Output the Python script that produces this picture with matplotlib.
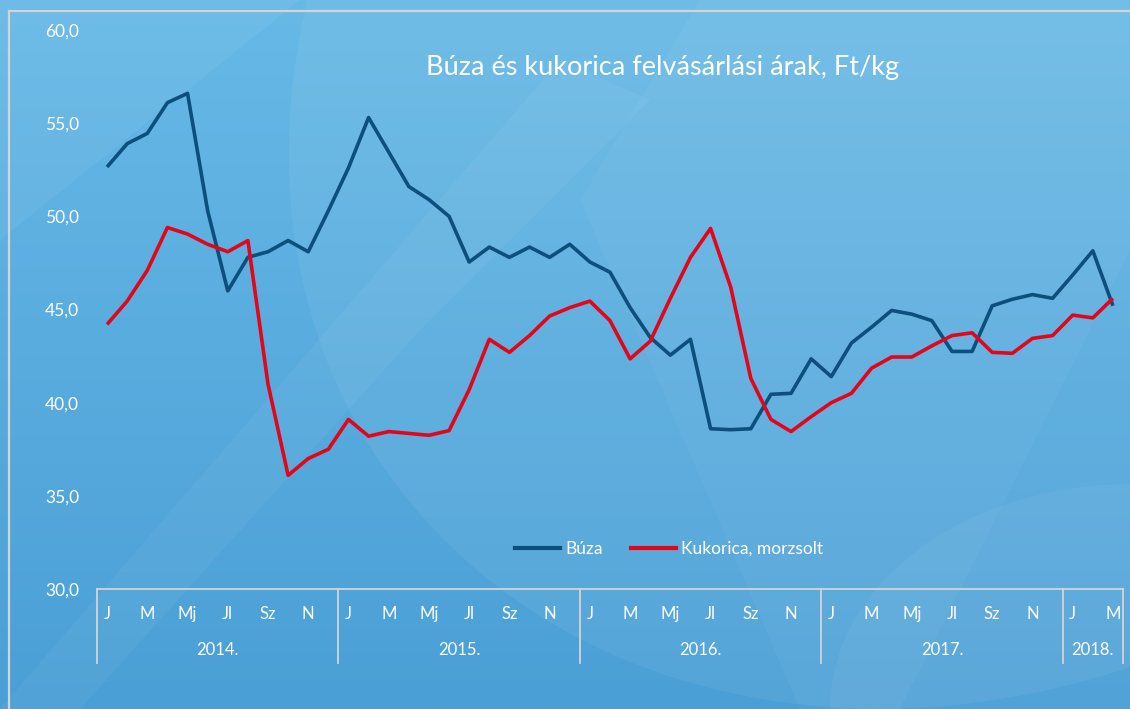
import matplotlib.pyplot as plt
import numpy as np
from matplotlib.colors import LinearSegmentedColormap
from matplotlib.lines import Line2D
from matplotlib.patches import Polygon, Ellipse

plt.rcParams["font.family"] = ["Lato", "DejaVu Sans"]

MONTH_LABELS = ["J", "M", "Mj", "Jl", "Sz", "N"]
YEARS = ["2014.", "2015.", "2016.", "2017.", "2018."]
YEAR_MONTHS = [12, 12, 12, 12, 3]

buza = [
    52.65, 53.9, 54.45, 56.1, 56.6, 50.3, 46.0, 47.8, 48.1, 48.7, 48.1, 50.3,
    52.6, 55.3, 53.45, 51.6, 50.9, 50.0, 47.55, 48.35, 47.8, 48.35, 47.8, 48.5,
    47.55, 47.0, 45.1, 43.5, 42.55, 43.4, 38.6, 38.55, 38.6, 40.45, 40.5, 42.35,
    41.4, 43.2, 44.05, 44.95, 44.75, 44.4, 42.75, 42.75, 45.2, 45.55, 45.8, 45.6,
    46.85, 48.15, 45.2,
]
kukorica = [
    44.2, 45.45, 47.1, 49.4, 49.05, 48.5, 48.1, 48.7, 41.0, 36.1, 37.0, 37.5,
    39.1, 38.2, 38.45, 38.35, 38.25, 38.5, 40.7, 43.4, 42.7, 43.6, 44.65, 45.1,
    45.45, 44.4, 42.35, 43.3, 45.6, 47.8, 49.35, 46.2, 41.3, 39.1, 38.45, 39.25,
    40.0, 40.5, 41.85, 42.45, 42.45, 43.05, 43.6, 43.75, 42.7, 42.65, 43.45, 43.6,
    44.7, 44.55, 45.6,
]

BLUE = "#0d4f7c"
RED = "#e3061a"
GRID = "#d4d4d4"
W, H = 1130, 709

fig = plt.figure(figsize=(W / 100, H / 100), dpi=100)

# background: vertical gradient plus a few soft decorative shapes
bg = fig.add_axes([0, 0, 1, 1], zorder=0)
bg.set_xlim(0, W)
bg.set_ylim(H, 0)
bg.axis("off")
grad = np.linspace(0, 1, 256).reshape(-1, 1)
cmap = LinearSegmentedColormap.from_list("bg", ["#67b9e6", "#4a9fd6"])
bg.imshow(grad, cmap=cmap, extent=[0, W, H, 0], aspect="auto")
bg.add_patch(Ellipse((1000, 40), 1500, 1250, angle=-35, facecolor="white",
                     alpha=0.06, edgecolor="none"))
bg.add_patch(Polygon([[0, 709], [80, 709], [420, 330], [650, 100], [560, 60]],
                     facecolor="white", alpha=0.045, edgecolor="none"))
bg.add_patch(Polygon([[580, 200], [700, 0], [1130, 0], [1130, 250], [900, 709], [800, 709]],
                     facecolor="white", alpha=0.035, edgecolor="none"))
bg.add_patch(Polygon([[0, 0], [0, 240], [300, 0]],
                     facecolor="white", alpha=0.05, edgecolor="none"))
bg.add_patch(Ellipse((1130, 709), 600, 450, facecolor="white",
                     alpha=0.045, edgecolor="none"))
# frame lines
bg.plot([9, W], [11, 11], color=GRID, lw=1.6)
bg.plot([9, 9], [11, H], color=GRID, lw=1.6)

ax = fig.add_axes([97 / W, 1 - 589 / H, 1026 / W, 559 / H], zorder=1)
ax.set_facecolor("none")
x = np.arange(len(buza))
ax.plot(x, buza, color=BLUE, lw=2.6, solid_capstyle="butt", label="Búza")
ax.plot(x, kukorica, color=RED, lw=2.6, solid_capstyle="butt",
        label="Kukorica, morzsolt")

ax.set_xlim(-0.5, len(buza) - 0.5)
ax.set_ylim(30, 60)
ax.set_yticks(np.arange(30, 61, 5))
ax.set_yticklabels([f"{v:.1f}".replace(".", ",") for v in np.arange(30, 61, 5)])
ax.tick_params(axis="y", length=0, pad=13, labelsize=12.5, labelcolor="white")
ax.set_xticks([])
for s in ["top", "right", "left"]:
    ax.spines[s].set_visible(False)
ax.spines["bottom"].set_color(GRID)
ax.spines["bottom"].set_linewidth(1.3)

# two-level category axis
tr = ax.get_xaxis_transform()
start = 0
for year, n in zip(YEARS, YEAR_MONTHS):
    ax.plot([start - 0.5, start - 0.5], [0, -0.133], transform=tr, color=GRID,
            lw=1.3, clip_on=False)
    for m in range(0, n, 2):
        ax.text(start + m, -0.044, MONTH_LABELS[m // 2], transform=tr,
                ha="center", va="center", color="white", fontsize=12)
    ax.text(start + (n - 1) / 2, -0.11, year, transform=tr, ha="center",
            va="center", color="white", fontsize=12)
    start += n
ax.plot([start - 0.5, start - 0.5], [0, -0.133], transform=tr, color=GRID,
        lw=1.3, clip_on=False)

fig.text(663 / W, 1 - 67 / H, "Búza és kukorica felvásárlási árak, Ft/kg",
         ha="center", va="center", color="white", fontsize=19.5)

handles = [Line2D([], [], color=BLUE, lw=3), Line2D([], [], color=RED, lw=3)]
ax.legend(handles, ["Búza", "Kukorica, morzsolt"], loc="center",
          bbox_to_anchor=(669 / W, 1 - 549 / H), bbox_transform=fig.transFigure,
          ncol=2, frameon=False, fontsize=12.5, labelcolor="white",
          handlelength=2.6, handletextpad=0.3, columnspacing=1.6)

fig.savefig("out.png", dpi=100)
